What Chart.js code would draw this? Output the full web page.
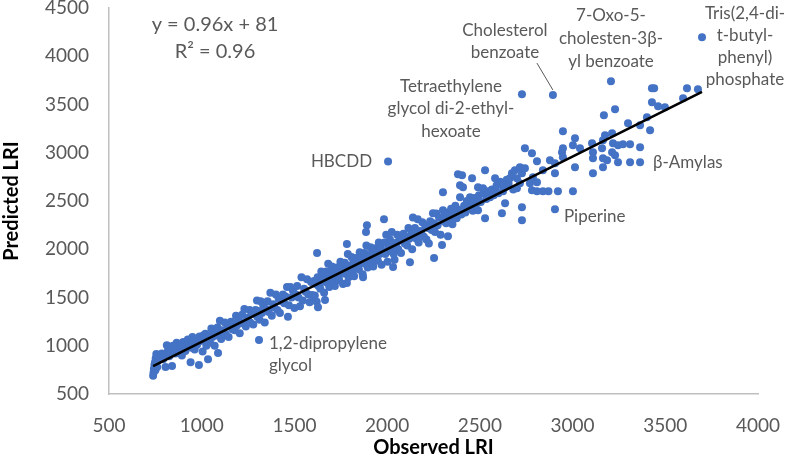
<!DOCTYPE html>
<html>
<head>
<meta charset="UTF-8">
<title>Observed vs predicted LRI</title>
<script src="https://cdn.jsdelivr.net/npm/chart.js"></script>
<style>
  body { margin: 0; background: #fff; }
  #box { width: 788px; height: 460px; position: relative; }
</style>
</head>
<body>
<div id="box"><canvas id="lriChart"></canvas></div>
<script>
// observed / predicted LRI pairs
const lriPairs = [
  [738,690],[740,720],[742,760],[745,800],[748,830],[750,745],[752,870],[755,915],[760,780],[765,850],
  [770,900],[778,880],[785,920],[792,860],[800,905],[805,780],[812,1005],[818,950],[825,890],[832,930],
  [840,790],[845,1000],[850,965],[858,920],[865,1030],[872,985],[880,950],[886,1010],[893,900],[900,1040],
  [905,980],[912,945],[918,1000],[925,1065],[932,1020],[940,830],[945,980],[950,1090],[955,1040],[962,960],
  [968,1070],[975,1010],[985,800],[988,1095],[995,1050],[1000,1080],[1005,940],[1010,1110],[1034,860],[1015,1060],
  [1020,1125],[1025,1000],[1030,1080],
  [1040,1100],[1045,1030],[1052,1180],[1058,1090],[1065,1150],[1070,1000],[1078,1120],[1085,1190],[1088,925],[1092,1100],
  [1098,1260],[1105,1070],[1110,1160],[1118,1140],[1125,1240],[1130,1120],[1138,1210],[1145,1090],[1150,1200],[1158,1250],
  [1165,1170],[1170,1230],[1178,1160],[1185,1310],[1190,1210],[1198,1280],[1205,1130],[1210,1240],[1218,1320],[1225,1230],
  [1230,1380],[1238,1200],[1245,1290],[1250,1270],[1258,1370],[1262,1240],[1270,1340],[1278,1220],[1285,1330],[1290,1370],
  [1298,1470],[1300,1300],
  [1305,1360],[1312,1270],[1318,1460],[1325,1340],[1332,1420],[1340,1240],[1348,1380],[1355,1460],[1362,1350],[1370,1550],
  [1378,1310],[1385,1430],[1392,1400],[1400,1530],[1408,1370],[1415,1490],[1422,1340],[1430,1460],[1438,1530],[1445,1440],
  [1452,1510],[1460,1610],[1465,1300],[1470,1420],[1478,1610],[1485,1500],[1492,1570],[1500,1390],[1508,1530],[1515,1620],
  [1522,1500],[1530,1410],[1538,1710],[1545,1470],[1552,1590],[1560,1560],[1568,1690],[1575,1530],[1582,1450],[1590,1660],
  [1595,1525],[1600,1510],
  [1605,1670],[1610,1520],[1615,1640],[1620,1455],[1622,1960],[1625,1710],[1627,1400],[1630,1620],[1635,1680],[1640,1590],
  [1645,1770],[1650,1660],[1655,1730],[1660,1550],[1662,1700],[1665,1475],[1668,1680],[1672,1770],[1678,1650],[1682,1850],
  [1685,1690],[1688,1610],[1692,1730],[1698,1690],[1702,1820],[1705,1740],[1708,1660],[1712,1780],[1718,1620],[1722,1740],
  [1725,1700],[1728,1810],[1732,1710],[1738,1780],[1742,1680],[1745,1770],[1748,1870],[1752,1750],[1758,1830],[1762,1640],
  [1765,1750],[1768,1780],[1772,1860],[1778,1750],[1783,2055],[1783,1650],[1785,1820],[1788,1950],[1792,1710],[1798,1830],
  [1802,1790],[1805,1800],[1808,1920],[1812,1760],[1818,1880],[1822,1720],[1825,1850],[1828,1850],[1832,1910],[1838,1820],
  [1842,1880],[1845,1840],[1848,1790],[1852,1970],[1858,1860],[1862,1930],[1865,1890],[1868,1740],[1870,1710],[1872,1880],
  [1878,1960],[1882,1850],[1885,1870],[1886,2180],[1888,2040],[1891,2250],[1895,1810],[1900,1920],[1905,1890],[1908,1940],
  [1910,2020],[1915,1860],[1920,1970],[1925,1820],[1928,1920],[1930,1940],[1935,2010],[1940,1910],[1945,1980],[1948,1970],
  [1950,1880],[1955,2070],[1960,1950],[1965,2030],[1968,1990],[1970,1840],[1978,1980],[1983,2310],[1985,2070],[1990,1950],
  [1995,2150],
  [2002,1870],[2008,2010],[2012,2040],[2015,2100],[2020,1980],[2025,2180],[2032,1815],[2035,1950],[2040,1890],[2042,2060],
  [2048,2030],[2052,2070],[2055,2150],[2060,2000],[2068,2120],[2075,1960],[2080,2090],[2088,2160],[2092,2120],[2095,2060],
  [2100,2130],[2108,2040],[2115,2220],[2120,2110],[2123,1866],[2130,2190],[2132,2150],[2135,2000],[2139,2330],[2142,2140],
  [2150,2220],[2158,2110],[2165,2310],[2170,2070],[2172,2170],[2178,2190],[2185,2160],[2190,2280],[2198,2130],[2205,2250],
  [2212,2100],[2212,2230],[2220,2220],[2225,2060],[2232,2290],[2240,2200],[2247,2374],[2250,2270],[2252,2240],[2253,1910],
  [2258,2180],[2265,2370],[2272,2250],[2280,2330],[2288,2150],[2296,2043],[2301,2591],[2301,2405],[2305,2290],
  [2310,2340],[2318,2270],[2328,2136],[2330,2380],[2338,2310],[2345,2420],[2352,2260],[2360,2370],[2368,2450],[2375,2320],
  [2382,2777],[2385,2410],[2393,2664],[2393,2539],[2400,2360],[2404,2767],[2409,2643],[2415,2450],[2422,2380],[2430,2500],
  [2440,2420],[2447,2539],[2450,2470],[2458,2736],[2462,2400],[2470,2530],[2478,2460],[2490,2405],[2490,2643],[2495,2560],
  [2505,2490],[2517,2633],[2520,2580],[2528,2322],[2528,2819],[2535,2520],[2545,2600],[2555,2540],[2565,2620],[2575,2560],
  [2582,2736],[2582,2612],[2590,2660],[2600,2580],[2610,2700],[2619,2664],[2619,2374],[2625,2600],[2636,2477],[2636,2643],
  [2645,2720],[2655,2680],[2662,2736],[2673,2788],[2680,2620],[2689,2819],[2700,2736],[2700,2633],[2716,2850],[2716,2684],
  [2727,2788],[2727,2436],[2727,2301],[2743,3046],[2743,2840],[2770,2684],[2781,2995],[2781,2612],[2786,2746],[2808,2912],
  [2808,2695],[2808,2602],[2840,2819],[2840,2602],[2870,2602],[2878,2922],[2905,2891],[2905,2788],[2921,2602],[2943,3005],
  [2948,3046],[2948,3223],[2948,2953],[3002,3077],[3002,2602],[3013,3150],[3013,2850],[3040,3046],[3105,3098],[3110,3005],
  [3110,2943],[3110,2788],
  [3159,3046],[3164,3129],[3164,2943],[3164,2850],[3169,3388],[3175,3181],[3186,2922],[3213,3202],[3213,3005],[3218,3098],
  [3229,3450],[3229,2974],[3245,3077],[3245,2901],[3272,3088],[3299,3305],[3310,3088],[3310,2901],[3364,3285],[3364,3057],
  [3401,3367],[3418,3233],[3428,3668],[3440,3668],[3428,3523],[3461,3481],[3498,3471],[3596,3564],[3617,3668],[3676,3657]
];

// named compounds (data labels)
const labelNames = [
  ["HBCDD"],
  ["Tetraethylene", "glycol di-2-ethyl-", "hexoate"],
  ["Cholesterol", "benzoate"],
  ["7-Oxo-5-", "cholesten-3β-", "yl benzoate"],
  ["Tris(2,4-di-", "t-butyl-", "phenyl)", "phosphate"],
  ["β-Amylas"],
  ["Piperine"],
  ["1,2-dipropylene", "glycol"]
];
const labelObserved  = [2005, 2727, 2894, 3207, 3698, 3364, 2905, 1309];
const labelPredicted = [2910, 3606, 3598, 3740, 4196, 2901, 2415, 1059];

// trendline from the fit shown on the chart
const slope = 0.96;
const intercept = 81;
const rSquared = 0.96;

const xTicks = [500, 1000, 1500, 2000, 2500, 3000, 3500, 4000];
const yTicks = [500, 1000, 1500, 2000, 2500, 3000, 3500, 4000, 4500];

// ---- build datasets ----
const scatterData = lriPairs.map(p => ({ x: p[0], y: p[1] }));
labelObserved.forEach((x, i) => scatterData.push({ x: x, y: labelPredicted[i] }));

const allX = scatterData.map(p => p.x);
const xMin = Math.min(...allX), xMax = Math.max(...allX);
const trendData = [
  { x: xMin, y: slope * xMin + intercept },
  { x: xMax, y: slope * xMax + intercept }
];

// label placement (pixel offsets from the point)
const labelPlace = [
  { align: 'right',  dx: -16, dy: 0,   lh: 22 },
  { align: 'center', dx: -71, dy: -8,  lh: 22.5 },
  { align: 'center', dx: -48, dy: -65, lh: 22, leader: [-16, -32, 0, -5] },
  { align: 'center', dx: 0,   dy: -66, lh: 23 },
  { align: 'center', dx: 43,  dy: -24, lh: 22 },
  { align: 'left',   dx: 13,  dy: 0,   lh: 22 },
  { align: 'left',   dx: 9,   dy: 7,   lh: 22 },
  { align: 'left',   dx: 10,  dy: 3,   lh: 22 }
];

const FONT = "Lato, 'Liberation Sans', sans-serif";
const GREY = '#595959';

const annotate = {
  id: 'annotate',
  afterDatasetsDraw(chart) {
    const { ctx, scales: { x, y } } = chart;
    ctx.save();
    ctx.fillStyle = GREY;
    ctx.textBaseline = 'middle';
    ctx.font = '17px ' + FONT;
    labelNames.forEach((lines, i) => {
      const px = x.getPixelForValue(labelObserved[i]);
      const py = y.getPixelForValue(labelPredicted[i]);
      const pl = labelPlace[i];
      ctx.textAlign = pl.align;
      lines.forEach((t, k) => ctx.fillText(t, px + pl.dx, py + pl.dy + k * pl.lh));
      if (pl.leader) {
        ctx.strokeStyle = '#595959';
        ctx.lineWidth = 1;
        ctx.beginPath();
        ctx.moveTo(px + pl.leader[0], py + pl.leader[1]);
        ctx.lineTo(px + pl.leader[2], py + pl.leader[3]);
        ctx.stroke();
      }
    });
    // trendline equation
    ctx.font = '20px ' + FONT;
    ctx.textAlign = 'center';
    ctx.fillText('y = ' + slope + 'x + ' + intercept, 215, 25);
    ctx.fillText('R² = ' + rSquared, 215, 52);
    ctx.restore();
  }
};

new Chart(document.getElementById('lriChart'), {
  type: 'scatter',
  data: {
    datasets: [
      {
        type: 'line',
        label: 'Trend',
        data: trendData,
        borderColor: '#000000',
        borderWidth: 2.5,
        pointRadius: 0,
        fill: false,
        order: 0
      },
      {
        label: 'LRI',
        data: scatterData,
        backgroundColor: '#4472C4',
        borderWidth: 0,
        pointRadius: 4,
        order: 1
      }
    ]
  },
  options: {
    responsive: true,
    maintainAspectRatio: false,
    animation: false,
    layout: { padding: { top: 8, right: 30, left: 0, bottom: 0 } },
    plugins: { legend: { display: false }, tooltip: { enabled: false } },
    scales: {
      x: {
        type: 'linear',
        min: 500, max: 4000,
        afterBuildTicks: s => { s.ticks = xTicks.map(v => ({ value: v })); },
        afterFit: s => { s.height = 66; s.paddingLeft = 0; s.paddingRight = 0; },
        grid: { display: false, drawTicks: false },
        border: { display: true, color: '#bfbfbf', width: 1.5 },
        ticks: { color: GREY, font: { family: FONT, size: 19 }, padding: 20, callback: v => String(v) },
        title: { display: true, text: 'Observed LRI', color: '#000', font: { family: FONT, size: 20, weight: 'bold' }, padding: 0 }
      },
      y: {
        type: 'linear',
        min: 500, max: 4500,
        afterBuildTicks: s => { s.ticks = yTicks.map(v => ({ value: v })); },
        afterFit: s => { s.width = 109; s.paddingTop = 0; s.paddingBottom = 0; },
        grid: { display: false, drawTicks: false },
        border: { display: true, color: '#bfbfbf', width: 1.5 },
        ticks: { color: GREY, font: { family: FONT, size: 19 }, padding: 20, callback: v => String(v) },
        title: { display: true, text: 'Predicted LRI', color: '#000', font: { family: FONT, size: 20, weight: 'bold' }, padding: 0 }
      }
    }
  },
  plugins: [annotate]
});
</script>
</body>
</html>
